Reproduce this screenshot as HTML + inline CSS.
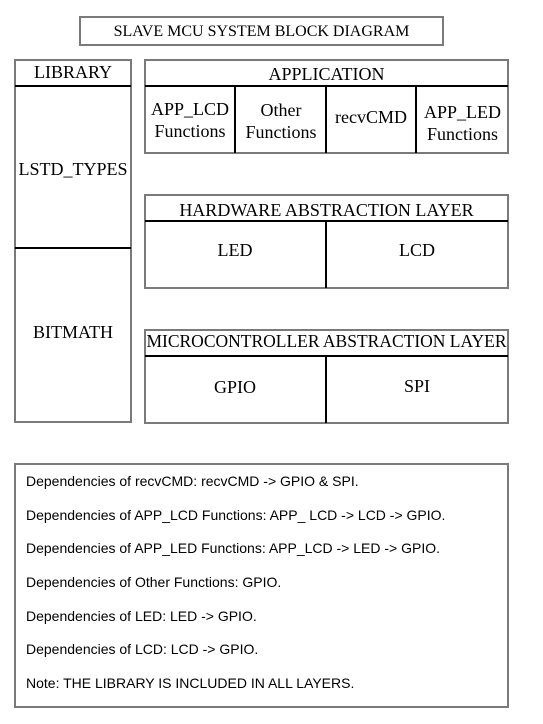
<!DOCTYPE html>
<html><head><meta charset="utf-8"><style>
html,body{margin:0;padding:0;background:#fff;width:543px;height:724px;overflow:hidden;position:relative}
.b{position:absolute;border:2px solid #7a7a7a;box-sizing:border-box}
.h{position:absolute;height:2px;background:#000}
.v{position:absolute;width:2px;background:#000}
.t{position:absolute;font-family:"Liberation Serif",serif;font-size:18px;color:#000;text-align:center;line-height:22px;white-space:nowrap}
.n{position:absolute;left:26px;font-family:"Liberation Sans",sans-serif;font-size:14px;color:#000;white-space:nowrap;line-height:16px}
</style></head><body>
<div class="b" style="left:79px;top:16px;width:365px;height:30px"></div>
<div class="t" style="left:79px;width:365px;top:21px;font-size:16px">SLAVE MCU SYSTEM BLOCK DIAGRAM</div>

<div class="b" style="left:14px;top:59px;width:118px;height:364px"></div>
<div class="h" style="left:15px;top:85px;width:116px"></div>
<div class="h" style="left:15px;top:247px;width:116px"></div>
<div class="t" style="left:14px;width:118px;top:61px">LIBRARY</div>
<div class="t" style="left:14px;width:118px;top:158px">LSTD_TYPES</div>
<div class="t" style="left:14px;width:118px;top:321px">BITMATH</div>

<div class="b" style="left:144px;top:59px;width:365px;height:95px"></div>
<div class="h" style="left:145px;top:85px;width:363px"></div>
<div class="v" style="left:234px;top:86px;height:67px"></div>
<div class="v" style="left:325px;top:86px;height:67px"></div>
<div class="v" style="left:415px;top:86px;height:67px"></div>
<div class="t" style="left:144px;width:365px;top:63px">APPLICATION</div>
<div class="t" style="left:145px;width:90px;top:98px">APP_LCD<br>Functions</div>
<div class="t" style="left:236px;width:90px;top:99px">Other<br>Functions</div>
<div class="t" style="left:326px;width:90px;top:106px">recvCMD</div>
<div class="t" style="left:416px;width:93px;top:101px">APP_LED<br>Functions</div>

<div class="b" style="left:144px;top:194px;width:365px;height:95px"></div>
<div class="h" style="left:145px;top:220px;width:363px"></div>
<div class="v" style="left:325px;top:221px;height:67px"></div>
<div class="t" style="left:144px;width:365px;top:199px">HARDWARE ABSTRACTION LAYER</div>
<div class="t" style="left:144px;width:182px;top:239px">LED</div>
<div class="t" style="left:326px;width:182px;top:239px">LCD</div>

<div class="b" style="left:144px;top:329px;width:365px;height:95px"></div>
<div class="h" style="left:145px;top:355px;width:363px"></div>
<div class="v" style="left:325px;top:356px;height:67px"></div>
<div class="t" style="left:144px;width:365px;top:330px;font-size:17.5px">MICROCONTROLLER ABSTRACTION LAYER</div>
<div class="t" style="left:144px;width:182px;top:376px">GPIO</div>
<div class="t" style="left:326px;width:182px;top:375px">SPI</div>

<div class="b" style="left:14px;top:463px;width:495px;height:245px"></div>
<div class="n" style="top:473px">Dependencies of recvCMD: recvCMD -&gt; GPIO &amp; SPI.</div>
<div class="n" style="top:507px">Dependencies of APP_LCD Functions: APP_ LCD -&gt; LCD -&gt; GPIO.</div>
<div class="n" style="top:540px">Dependencies of APP_LED Functions: APP_LCD -&gt; LED -&gt; GPIO.</div>
<div class="n" style="top:574px">Dependencies of Other Functions: GPIO.</div>
<div class="n" style="top:608px">Dependencies of LED: LED -&gt; GPIO.</div>
<div class="n" style="top:641px">Dependencies of LCD: LCD -&gt; GPIO.</div>
<div class="n" style="top:675px">Note: THE LIBRARY IS INCLUDED IN ALL LAYERS.</div>
</body></html>
